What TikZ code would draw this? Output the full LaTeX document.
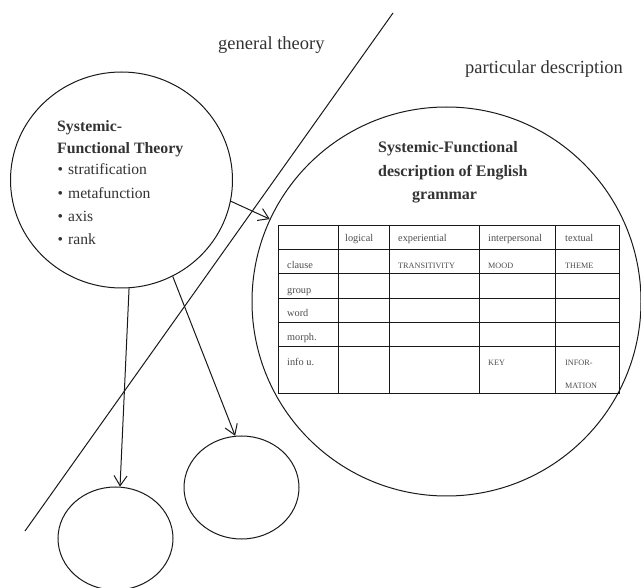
\documentclass[tikz,border=0pt]{standalone}
\usepackage{fontspec}
\setmainfont{Liberation Serif}
\usetikzlibrary{shapes.geometric,arrows.meta}
\begin{document}
\begin{tikzpicture}[x=1pt,y=-1pt,
  ln/.style={line width=1pt, draw=black!90},
  arr/.style={ln, -{Straight Barb[length=10pt,width=13pt,line width=1pt]}},
  oval/.style={ln, ellipse, inner sep=0pt},
  big/.style={font=\fontsize{18.5}{20}\selectfont, text=black!80, inner sep=0pt, anchor=base west},
  ttl/.style={font=\fontsize{15.8}{18}\selectfont\bfseries, text=black!80, inner sep=0pt, anchor=base west},
  itm/.style={font=\fontsize{15.6}{18}\selectfont, text=black!80, inner sep=0pt, anchor=base west},
  cell/.style={font=\fontsize{10.3}{12}\selectfont, text=black!70, inner sep=0pt, anchor=base west},
  capcell/.style={font=\fontsize{8.2}{10}\selectfont, text=black!70, inner sep=0pt, anchor=base west},
]
\useasboundingbox (0,0) rectangle (641,588);

% dividing line
\coordinate (lineA) at (25,531);
\coordinate (lineB) at (393,13);
\draw[ln] (lineA) -- (lineB);

\node[big] (gen) at (218,50) {general theory};
\node[big] (par) at (465,74) {particular description};

% circles
\node[oval, minimum width=222pt, minimum height=216pt] (L) at (121.5,180) {};
\node[oval, minimum width=389pt, minimum height=389pt] (D) at (446.5,301.5) {};
\node[oval, minimum width=115pt, minimum height=103pt] (B1) at (115.5,538.5) {};
\node[oval, minimum width=115pt, minimum height=103pt] (B2) at (241.5,487.5) {};

% left circle text
\node[ttl] (t1) at (57,131.5) {Systemic-};
\node[ttl] (t2) at (57,154) {Functional Theory};
\node[itm] (i1) at (57.5,175) {\textbullet\hspace{5pt}stratification};
\node[itm] (i2) at (57.5,198.5) {\textbullet\hspace{5pt}metafunction};
\node[itm] (i3) at (57.5,222) {\textbullet\hspace{5pt}axis};
\node[itm] (i4) at (57.5,245) {\textbullet\hspace{5pt}rank};

% big circle title
\node[ttl, font=\fontsize{16}{18}\selectfont\bfseries] (d1) at (378,153) {Systemic-Functional};
\node[ttl, font=\fontsize{16}{18}\selectfont\bfseries] (d2) at (378,177) {description of English};
\node[ttl, font=\fontsize{16}{18}\selectfont\bfseries] (d3) at (412,200) {grammar};

% table
\draw[ln] (278,226) rectangle (619.3,394);
\foreach \xx in {338.3,389.3,479.3,555.3} \draw[ln] (\xx,226) -- (\xx,394);
\foreach \yy in {250,274,298.3,322.3,346.7} \draw[ln] (278,\yy) -- (619.3,\yy);

\node[cell] at (345,242) {logical};
\node[cell] at (398,242) {experiential};
\node[cell] at (488,242) {interpersonal};
\node[cell] at (565,242) {textual};
\node[cell] at (287,269) {clause};
\node[cell] at (287,293.5) {group};
\node[cell] at (287,317) {word};
\node[cell] at (287,341) {morph.};
\node[cell] at (287,366) {info u.};
\node[capcell] at (398,269) {TRANSITIVITY};
\node[capcell] at (488,269) {MOOD};
\node[capcell] at (565,269) {THEME};
\node[capcell] at (488,366) {KEY};
\node[capcell] at (565,366) {INFOR-};
\node[capcell] at (565,389) {MATION};

% arrows
\draw[arr] (L.-86) -- (B1.85);
\draw[arr] (L.-62) -- (B2.97);
\draw[arr] (L.-11) -- (D.155);
\end{tikzpicture}
\end{document}
